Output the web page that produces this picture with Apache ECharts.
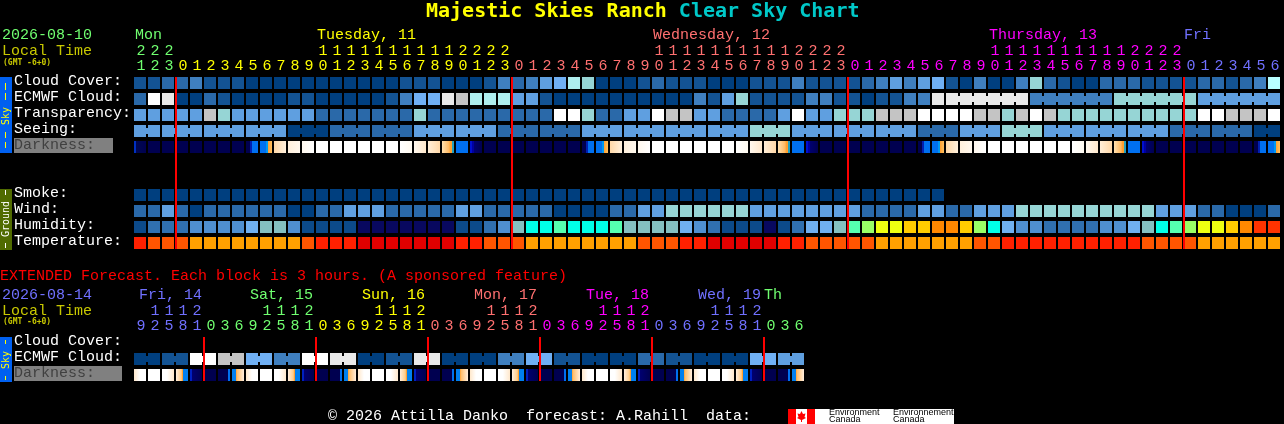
<!DOCTYPE html>
<html><head><meta charset="utf-8">
<style>html,body{margin:0;padding:0;background:#000;overflow:hidden}#c{width:1284px;height:424px}</style>
<script src="https://cdn.jsdelivr.net/npm/echarts@6/dist/echarts.min.js"></script>
</head><body><div id="c"></div>
<script>
// ---------- data ----------
const mainHours=[21,22,23,0,1,2,3,4,5,6,7,8,9,10,11,12,13,14,15,16,17,18,19,20,21,22,23,0,1,2,3,4,5,6,7,8,9,10,11,12,13,14,15,16,17,18,19,20,21,22,23,0,1,2,3,4,5,6,7,8,9,10,11,12,13,14,15,16,17,18,19,20,21,22,23,0,1,2,3,4,5,6];
const mainDayNames=['Mon','Tuesday, 11','Wednesday, 12','Thursday, 13','Fri'];
const mainDayLabelAt=[0,13,37,61,75];
const mainDayStart=[0,3,27,51,75];
const mainMidnights=[3,27,51,75];
const rowNames=['Cloud Cover:','ECMWF Cloud:','Transparency:','Seeing:','Darkness:','','','Smoke:','Wind:','Humidity:','Temperature:'];
const cloudCover=[1,1,2,2,3,1,1,1,0,0,0,0,0,0,0,0,0,0,0,1,1,1,0,0,0,1,3,2,3,4,5,7,6,0,0,0,1,2,1,1,1,0,0,0,1,1,1,3,1,1,1,1,2,3,4,3,4,5,1,0,3,0,0,3,6,2,1,0,0,2,2,2,1,1,1,1,2,2,1,2,3,11];
const ecmwfCloud=[2,10,9,0,0,2,1,0,0,0,0,1,1,0,0,0,0,0,1,3,5,5,9,8,7,7,7,4,4,1,0,0,0,0,0,0,0,0,0,0,3,1,4,6,1,1,1,1,3,3,1,1,0,1,1,3,3,9,9,9,9,9,9,9,3,3,3,3,3,3,6,6,6,6,6,6,4,4,4,4,4,4];
const transparency=[4,4,4,4,4,8,6,4,4,4,4,4,4,2,2,2,2,2,2,2,6,2,2,2,2,2,2,2,2,2,10,10,6,2,2,4,4,10,8,8,4,4,2,2,2,2,4,10,4,4,6,6,6,8,8,8,10,10,10,10,8,8,6,8,10,8,6,6,6,6,6,6,6,6,6,6,10,10,8,8,8,10];
const seeing=[4,4,4,4,4,4,4,4,4,4,4,0,0,0,2,2,2,2,2,2,4,4,4,4,4,4,2,2,2,2,2,2,4,4,4,4,4,4,4,4,4,4,4,4,6,6,6,4,4,4,4,4,4,4,4,4,2,2,2,4,4,4,6,6,6,4,4,4,4,4,4,4,4,4,2,2,2,2,2,2,0,0];
const darkness=['L','n','n','n','n','n','n','n','D','O','P','Q','R','W','W','W','W','W','W','S','T','V','E','B','U','n','n','n','n','n','n','n','D','O','P','Q','R','W','W','W','W','W','W','S','T','V','E','B','U','n','n','n','n','n','n','n','D','O','P','Q','R','W','W','W','W','W','W','S','T','V','E','B','U','n','n','n','n','n','n','n','D','O'];
const smoke=[0,0,0,0,0,0,0,0,0,0,0,0,0,0,0,0,0,0,0,0,0,0,0,0,0,0,0,0,0,0,0,0,0,0,0,0,0,0,0,0,0,0,0,0,0,0,0,0,0,0,0,0,0,0,0,0,0,0];
const wind=[2,2,4,2,0,2,2,2,2,2,2,0,0,2,2,4,4,4,2,2,2,2,2,4,4,2,2,2,2,2,0,0,0,0,2,2,4,4,6,6,6,6,6,6,4,4,4,4,4,4,4,4,2,2,2,2,4,4,2,2,4,4,4,6,6,6,6,6,6,6,6,6,6,4,4,4,2,2,0,0,0,2];
const humidity=[1,2,2,2,3,3,3,3,4,5,5,3,1,1,1,1,0,0,0,0,0,0,0,1,1,2,3,5,6,6,7,6,6,6,7,5,5,5,5,4,3,2,1,1,1,0,1,2,4,4,5,7,8,9,9,10,10,11,11,10,8,6,4,3,3,2,2,2,2,3,3,4,5,6,7,8,9,9,10,11,12,12];
const temperature=[1,2,2,2,3,3,3,3,3,3,3,3,2,1,1,1,0,0,0,0,0,0,0,1,1,2,2,2,3,3,3,3,3,3,3,3,2,2,2,1,1,0,0,0,0,0,1,1,2,2,2,2,2,3,3,3,3,3,3,3,2,2,1,1,1,1,1,1,1,1,1,1,2,2,2,2,3,3,3,3,3,3];
const seeingGroupEnds=[1,4,7,10,13,16,19,22,25,28,31,34,37,40,43,46,49,52,55,58,61,64,67,70,73,76,79,81];
const ecmwfGroupEnds=[63,69,75,81];

const extHours=[9,12,15,18,21,0,3,6,9,12,15,18,21,0,3,6,9,12,15,18,21,0,3,6,9,12,15,18,21,0,3,6,9,12,15,18,21,0,3,6,9,12,15,18,21,0,3,6];
const extDayNames=['Fri, 14','Sat, 15','Sun, 16','Mon, 17','Tue, 18','Wed, 19','Th'];
const extDayLabelAt=[0,8,16,24,32,40,45];
const extDayStart=[0,5,13,21,29,37,45];
const extMidnights=[5,13,21,29,37,45];
const extRowNames=['Cloud Cover:','ECMWF Cloud:','Darkness:'];
const extEcmwfPairs=[0,1,10,8,5,3,10,9,0,1,9,0,0,3,5,1,0,0,2,1,0,0,5,4];
const extDarkness=['a','b','c','d','e','n','g','h','a','b','c','d','e','n','g','h','a','b','c','d','e','n','g','h','a','b','c','d','e','n','g','h','a','b','c','d','e','n','g','h','a','b','c','d','e','n','g','h'];
const dayColors=['#70ff70','#ffff00','#ff7070','#ff00ff','#7070ff'];
const extDayColors=['#7070ff','#70ff70','#ffff00','#ff7070','#ff00ff','#7070ff','#70ff70'];

// ---------- styles ----------
const MONO='"Liberation Mono",monospace';
const FS=15;
const cloudPal=['#003f7f','#135393','#2a69a9','#3f7fbf','#5f9fe0','#70b0f4','#96d5d5','#aeeeee','#c4c4c4','#e9e9e9','#ffffff','#b8ffff'];
const humPal=['#08085f','#0c4a8a','#3070b0','#4f8fd0','#70b0f0','#84c0c0','#00ffe8','#55ffb0','#99ff66','#eeff11','#ffcc00','#ff8800','#ff3300'];
const tempPal=['#e00000','#ff2000','#ff5500','#ffa000'];
const NV='#000050',BL='#0070f0';
function grad(...s){const o=[];for(let i=0;i<s.length;i+=2)o.push({offset:s[i],color:s[i+1]});return{type:'linear',x:0,y:0,x2:1,y2:0,colorStops:o};}
const darkStyle={
 n:NV,W:'#ffffff',B:BL,
 L:grad(0,'#0030c0',.17,'#0030c0',.17,'#000850',1,NV),
 D:grad(0,NV,.33,NV,.33,'#0020b0',.5,'#0020b0',.5,BL,1,BL),
 O:grad(0,BL,.5,BL,.5,'#0098f0',.67,'#0098f0',.67,'#ffa030',1,'#ffc060'),
 P:grad(0,'#ffd8a8',1,'#fff0dc'),
 Q:grad(0,'#fff0dc',1,'#fff8ee'),
 R:grad(0,'#fff8ee',1,'#ffffff'),
 S:grad(0,'#ffffff',1,'#fffaf0'),
 T:grad(0,'#fff8ee',1,'#ffe8cc'),
 V:grad(0,'#ffeed8',1,'#ffd8a8'),
 E:grad(0,'#ffe0b0',.6,'#ffb860',.67,'#ffa030',.85,'#ffa030',.85,'#20a0c0',1,'#20a0c0'),
 U:grad(0,'#0010d0',.17,'#0010d0',.17,'#0000a0',.33,'#0000a0',.33,'#000070',1,NV),
 a:grad(0,'#ffe8cc',.5,'#ffffff',1,'#ffffff'),
 b:'#ffffff',
 c:grad(0,'#ffffff',.4,'#ffffff',1,'#ffe8cc'),
 d:grad(0,'#ffeedd',.45,'#ffcc88',.5,'#ffa030',.6,'#ffa030',.6,'#0080f0',1,'#0080f0'),
 e:grad(0,'#0020c0',.17,'#0020c0',.17,'#000070',1,NV),
 g:grad(0,NV,.83,NV,.83,BL,1,BL),
 h:grad(0,'#0080f0',.33,'#0080f0',.33,'#ffa030',.45,'#ffc070',1,'#ffeedd')
};

function colorOf(i,starts,cols){let c=cols[0];starts.forEach((s,k)=>{if(i>=s)c=cols[k];});return c;}
function hourAxis(hours,starts,cols,fn,grid,offset){
 return{type:'category',gridIndex:grid,position:'top',offset,
  data:hours.map((h,i)=>({value:fn(h),textStyle:{color:colorOf(i,starts,cols)}})),
  axisLine:{show:false},axisTick:{show:false},splitLine:{show:false},
  axisLabel:{interval:0,fontFamily:MONO,fontSize:FS,margin:3,hideOverlap:false}};
}
function yAx(grid,names,darkIdx){
 const lab={align:'left',verticalAlign:'bottom',fontFamily:MONO,fontSize:FS,lineHeight:7};
 return{type:'category',gridIndex:grid,inverse:true,
  data:names.map((n,i)=>i===darkIdx?{value:n,textStyle:Object.assign({color:'#404040'},lab)}:n),
  axisLine:{show:false},axisTick:{show:false},splitLine:{show:false},
  axisLabel:Object.assign({interval:0,margin:120,color:'#fff'},lab)};
}
function blocks(r,arr,styleOf,grid,groupEnds,bridgeFrom){
 const data=arr.map((v,i)=>{
  const bridged=groupEnds?(i>=bridgeFrom&&groupEnds.indexOf(i)<0):false;
  return{value:[i,r,bridged?1:0],fillStyle:styleOf(v)};
 });
 return{type:'custom',coordinateSystem:'cartesian2d',xAxisIndex:grid*3,yAxisIndex:grid,silent:true,z:2,animation:false,
  encode:{x:0,y:1},data,
  renderItem(p,api){
   const c=api.coord([api.value(0),api.value(1)]),s=api.size([1,1]);
   const x=c[0]-s[0]/2,y=c[1]-s[1]/2,fill=data[p.dataIndex].fillStyle;
   const ch=[{type:'rect',shape:{x,y,width:s[0]-2,height:s[1]-4},style:{fill}}];
   if(api.value(2))ch.push({type:'rect',shape:{x:x+s[0]-2,y:y+3,width:2,height:6},style:{fill}});
   return{type:'group',children:ch};
  }};
}
function redLines(marks,grid,lastRow){
 return{type:'custom',coordinateSystem:'cartesian2d',xAxisIndex:grid*3,yAxisIndex:grid,silent:true,z:50,animation:false,
  encode:{x:0,y:1},data:marks.map(m=>[m,0]),
  renderItem(p,api){
   const c=api.coord([api.value(0),0]),e=api.coord([api.value(0),lastRow]),s=api.size([1,1]);
   return{type:'rect',shape:{x:c[0]-s[0]/2-1,y:c[1]-s[1]/2,width:2,height:e[1]-c[1]+s[1]-4},style:{fill:'#ff0000'}};
  }};
}
function dayLabels(names,at,cols,grid,dy,dx){
 return{type:'custom',coordinateSystem:'cartesian2d',xAxisIndex:grid*3,yAxisIndex:grid,silent:true,z:6,animation:false,
  encode:{x:0,y:1},data:at.map((a,i)=>[a,0,i]),
  renderItem(p,api){
   const i=api.value(2),c=api.coord([api.value(0),0]),s=api.size([1,1]);
   return{type:'text',style:{text:names[i],x:c[0]-s[0]/2+dx[i],y:c[1]-s[1]/2+dy,fill:cols[i],font:FS+'px '+MONO,textAlign:'left',textVerticalAlign:'middle'}};
  }};
}
const T=(text,x,y,fill,extra)=>({type:'text',x,y,z:10,silent:true,style:Object.assign({text,fill,font:FS+'px '+MONO,textAlign:'left',textVerticalAlign:'middle'},extra||{})});
const R=(x,y,w,h,fill,z)=>({type:'rect',z:z===undefined?8:z,silent:true,shape:{x,y,width:w,height:h},style:{fill}});
const vtext=(text,cx,cy,fill)=>({type:'text',x:cx,y:cy,rotation:Math.PI/2,z:10,silent:true,style:{text,fill,font:'10px "DejaVu Sans Mono"',textAlign:'center',textVerticalAlign:'middle'}});

const extEcmwf=[];extEcmwfPairs.forEach(v=>extEcmwf.push(v,v));
const extEnds=extDarkness.map((_,i)=>i).filter(i=>i%2===1);
const bp=v=>cloudPal[v],hp=v=>humPal[v],tp=v=>tempPal[v],dp=v=>darkStyle[v];

const graphic=[
 {type:'text',x:426,y:12,z:10,silent:true,style:{text:'{a|Majestic Skies Ranch }{b|Clear Sky Chart}',textVerticalAlign:'middle',textAlign:'left',rich:{a:{fill:'#ffff00',font:'bold 20px "DejaVu Sans Mono"'},b:{fill:'#00c8c8',font:'bold 20px "DejaVu Sans Mono"'}}}},
 T('2026-08-10',2,35.5,'#70ff70'),T('Local Time',2,51,'#c8c800'),
 T('(GMT -6+0)',3,63,'#c8c800',{font:'bold 8px "DejaVu Sans Mono"'}),
 R(0,77,12,76,'#0060f0'),
 R(5,83,1,7,'#ffff00'),R(5,93,1,7,'#ffff00'),R(5,132,1,6,'#ffff00'),R(5,142,1,6,'#ffff00'),
 vtext('Sky',6,116,'#ffff00'),
 R(14,138,99,15,'#808080',-1),
 R(0,189,12,61,'#506b00'),
 R(5,190,1,5,'#ffffff'),R(5,243,1,5,'#ffffff'),
 vtext('Ground',6,219,'#ffffff'),
 T('EXTENDED Forecast. Each block is 3 hours. (A sponsored feature)',0,276.5,'#ff0000'),
 T('2026-08-14',2,295.5,'#7070ff'),T('Local Time',2,311,'#c8c800'),
 T('(GMT -6+0)',3,322,'#c8c800',{font:'bold 8px "DejaVu Sans Mono"'}),
 R(0,337,12,45,'#0060f0'),
 R(5,340,1,4,'#ffff00'),R(5,376,1,4,'#ffff00'),
 vtext('Sky',6,360,'#ffff00'),
 R(14,366,108,15,'#808080',-1),
 T('\u00a9 2026 Attilla Danko  forecast: A.Rahill  data:',328,416.5,'#ffffff'),
 R(788,409,166,15,'#ffffff'),R(788,409,8,15,'#ff0000'),R(807,409,8,15,'#ff0000'),
 {type:'polygon',z:9,silent:true,shape:{points:[[801.5,411],[803,414],[805.5,413.5],[804.5,417],[806,418],[802,420],[802,422],[801,422],[801,420],[797,418],[798.5,417],[797.5,413.5],[800,414]]},style:{fill:'#ff0000'}},
 T('Environment',829,413,'#000000',{font:'9px "Liberation Sans"'}),T('Canada',829,420,'#000000',{font:'9px "Liberation Sans"'}),
 T('Environnement',893,413,'#000000',{font:'9px "Liberation Sans"'}),T('Canada',893,420,'#000000',{font:'9px "Liberation Sans"'})
];

const unit=h=>String(h%10),tens=h=>h>=10?String(Math.floor(h/10)):'';
const option={
 animation:false,backgroundColor:'#000',graphic,
 grid:[{left:134,top:77,width:1148,height:176,outerBoundsMode:'none'},{left:134,top:337,width:672,height:48,outerBoundsMode:'none'}],
 xAxis:[
  hourAxis(mainHours,mainDayStart,dayColors,unit,0,0),
  hourAxis(mainHours,mainDayStart,dayColors,tens,0,15),
  Object.assign(hourAxis(mainHours,mainDayStart,dayColors,()=>'',0,0),{show:false}),
  hourAxis(extHours,extDayStart,extDayColors,unit,1,0),
  hourAxis(extHours,extDayStart,extDayColors,tens,1,15),
  Object.assign(hourAxis(extHours,extDayStart,extDayColors,()=>'',1,0),{show:false})
 ],
 yAxis:[yAx(0,rowNames,4),yAx(1,extRowNames,2)],
 series:[
  blocks(0,cloudCover,bp,0),
  blocks(1,ecmwfCloud,bp,0,ecmwfGroupEnds,58),
  blocks(2,transparency,bp,0),
  blocks(3,seeing,bp,0,seeingGroupEnds,0),
  blocks(4,darkness,dp,0),
  blocks(7,smoke,bp,0),
  blocks(8,wind,bp,0),
  blocks(9,humidity,hp,0),
  blocks(10,temperature,tp,0),
  redLines(mainMidnights,0,10),
  dayLabels(mainDayNames,mainDayLabelAt,dayColors,0,-41.5,[1,1,1,1,0]),
  blocks(1,extEcmwf,bp,1,extEnds,0),
  blocks(2,extDarkness,dp,1),
  redLines(extMidnights,1,2),
  dayLabels(extDayNames,extDayLabelAt,extDayColors,1,-41.5,[5,4,4,4,4,4,0])
 ]
};
echarts.init(document.getElementById('c')).setOption(option);
</script></body></html>
